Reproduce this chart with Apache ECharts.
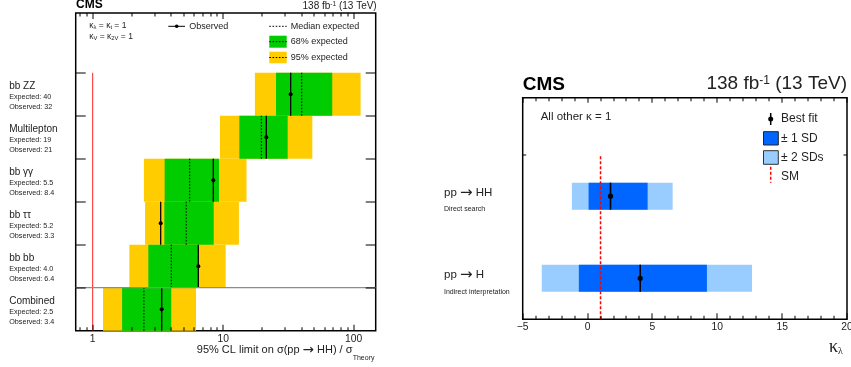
<!DOCTYPE html>
<html>
<head>
<meta charset="utf-8">
<script src="https://cdn.jsdelivr.net/npm/echarts@6/dist/echarts.min.js"></script>
<style>
  html, body { margin: 0; padding: 0; background: #fff; }
  #chart { width: 851px; height: 367px; }
</style>
</head>
<body>
<div id="chart"></div>
<script>
// left panel: 95% CL limits, bottom row first
const channels = ['Combined', 'bb bb', 'bb ττ', 'bb γγ', 'Multilepton', 'bb ZZ'];
const expectedText = ['2.5', '4.0', '5.2', '5.5', '19', '40'];
const observedText = ['3.4', '6.4', '3.3', '8.4', '21', '32'];
const expectedLimit = [2.47, 4.0, 5.21, 5.54, 19.6, 40.0];
const observedLimit = [3.38, 6.45, 3.32, 8.4, 21.4, 32.9];
const band68Low = [1.68, 2.67, 3.54, 3.56, 13.3, 25.4];
const band68High = [4.0, 6.53, 8.46, 9.29, 31.2, 68.5];
const band95Low = [1.2, 1.91, 2.52, 2.47, 9.45, 17.5];
const band95High = [6.19, 10.45, 13.2, 15.1, 48.2, 113];
const limitTicksMajor = [1, 10, 100];
const limitTicksMinor = [0.8, 0.9, 2, 3, 4, 5, 6, 7, 8, 9, 20, 30, 40, 50, 60, 70, 80, 90];
const rowEdges = [1, 2, 3, 4, 5, 6];

// right panel: kappa_lambda intervals, bottom row first
const processNames = [['pp', 'H'], ['pp', 'HH']];
const processNotes = ['Indirect interpretation', 'Direct search'];
const bestFit = [4.06, 1.77];
const sd1Low = [-0.67, 0.08];
const sd1High = [9.2, 4.63];
const sd2Low = [-3.53, -1.21];
const sd2High = [12.68, 6.56];
const smKappa = [1];
const kappaTicksMajor = [-5, 0, 5, 10, 15, 20];
const kappaTicksMinor = [-4, -3, -2, -1, 1, 2, 3, 4, 6, 7, 8, 9, 11, 12, 13, 14, 16, 17, 18, 19];
const kappaRowEdges = [2];

const FONT = 'Liberation Sans, Arial, sans-serif';
const ARROW_FONT = 'DejaVu Sans, sans-serif';
const YELLOW = '#ffcc00';
const GREEN = '#00cc00';
const BLUE = '#0066ff';
const LIGHTBLUE = '#99ccff';

const LX_MIN = 0.741, LX_MAX = 147.5, LY_MAX = 7.39;
const RX_MIN = -5, RX_MAX = 20, RY_MAX = 2.7, HALF = 0.165;

const chart = echarts.init(document.getElementById('chart'));

const rowData = channels.map((c, i) => [i]);
const procData = processNames.map((p, i) => [i]);

function bandSeries(low, high, color) {
  return {
    type: 'custom', xAxisIndex: 0, yAxisIndex: 0, data: rowData,
    renderItem: (params, api) => {
      const i = api.value(0);
      const a = api.coord([low[i], i + 1]);
      const b = api.coord([high[i], i]);
      return { type: 'rect', shape: { x: a[0], y: a[1], width: b[0] - a[0], height: b[1] - a[1] }, style: { fill: color } };
    }
  };
}

function kappaBand(low, high, color) {
  return {
    type: 'custom', xAxisIndex: 1, yAxisIndex: 1, data: procData,
    renderItem: (params, api) => {
      const i = api.value(0);
      const a = api.coord([low[i], i + 0.5 + HALF]);
      const b = api.coord([high[i], i + 0.5 - HALF]);
      return { type: 'rect', shape: { x: a[0], y: a[1], width: b[0] - a[0], height: b[1] - a[1] }, style: { fill: color } };
    }
  };
}

// ticks as thin filled rects (1px wide)
const vTick = (x, y, len) => ({ type: 'rect', shape: { x: Math.round(x) - 0.5, y: len > 0 ? y : y + len, width: 1, height: Math.abs(len) }, style: { fill: '#000' } });
const hTick = (x, y, len) => ({ type: 'rect', shape: { x: len > 0 ? x : x + len, y: Math.round(y) - 0.5, width: Math.abs(len), height: 1 }, style: { fill: '#000' } });

function tickSeries(axisIdx, major, minor, yMax, lenBottom, lenTop, fmt) {
  return {
    type: 'custom', xAxisIndex: axisIdx, yAxisIndex: axisIdx, clip: false, z: 6,
    data: major.map(v => [v, 1]).concat(minor.map(v => [v, 0])),
    renderItem: (params, api) => {
      const v = api.value(0), isMajor = api.value(1) === 1;
      const b = api.coord([v, 0]);
      const t = api.coord([v, yMax]);
      const kids = [
        vTick(b[0], b[1], -(isMajor ? lenBottom[0] : lenBottom[1])),
        vTick(t[0], t[1], isMajor ? lenTop[0] : lenTop[1])
      ];
      if (isMajor) {
        kids.push({ type: 'text', x: b[0], y: b[1] + 8.3, style: { text: fmt(v), fill: '#222', fontSize: 10.3, fontFamily: FONT, align: 'center', verticalAlign: 'middle' } });
      }
      return { type: 'group', children: kids };
    }
  };
}

function edgeSeries(axisIdx, edges, xMin, xMax, len) {
  return {
    type: 'custom', xAxisIndex: axisIdx, yAxisIndex: axisIdx, clip: false, z: 6, data: edges.map(v => [v]),
    renderItem: (params, api) => {
      const l = api.coord([xMin, api.value(0)]);
      const r = api.coord([xMax, api.value(0)]);
      return { type: 'group', children: [hTick(l[0], l[1], len), hTick(r[0], r[1], -len)] };
    }
  };
}

chart.setOption({
  animation: false,
  grid: [
    { left: 75.7, top: 13, right: 475.3, bottom: 36.3, show: true, borderColor: '#000', borderWidth: 1.5 },
    { left: 522.7, top: 97.7, right: 4, bottom: 47.7, show: true, borderColor: '#000', borderWidth: 1.5 }
  ],
  xAxis: [
    { gridIndex: 0, type: 'log', logBase: 10, min: LX_MIN, max: LX_MAX, show: false },
    { gridIndex: 1, type: 'value', min: RX_MIN, max: RX_MAX, show: false }
  ],
  yAxis: [
    { gridIndex: 0, type: 'value', min: 0, max: LY_MAX, show: false },
    { gridIndex: 1, type: 'value', min: 0, max: RY_MAX, show: false }
  ],
  series: [
    bandSeries(band95Low, band95High, YELLOW),
    bandSeries(band68Low, band68High, GREEN),
    {
      // median expected
      type: 'custom', xAxisIndex: 0, yAxisIndex: 0, data: rowData,
      renderItem: (params, api) => {
        const i = api.value(0);
        const a = api.coord([expectedLimit[i], i]);
        const b = api.coord([expectedLimit[i], i + 1]);
        return { type: 'line', shape: { x1: a[0], y1: a[1], x2: b[0], y2: b[1] }, style: { stroke: '#000', lineWidth: 1, lineDash: [1.6, 1.6] } };
      }
    },
    {
      // observed
      type: 'custom', xAxisIndex: 0, yAxisIndex: 0, data: rowData,
      renderItem: (params, api) => {
        const i = api.value(0);
        const a = api.coord([observedLimit[i], i]);
        const b = api.coord([observedLimit[i], i + 1]);
        const c = api.coord([observedLimit[i], i + 0.5]);
        return {
          type: 'group', children: [
            { type: 'line', shape: { x1: a[0], y1: a[1], x2: b[0], y2: b[1] }, style: { stroke: '#000', lineWidth: 1.3 } },
            { type: 'circle', shape: { cx: c[0], cy: c[1], r: 2 }, style: { fill: '#000' } }
          ]
        };
      }
    },
    {
      // SM reference at 1 and separator above combined
      type: 'custom', xAxisIndex: 0, yAxisIndex: 0, data: [[1]],
      renderItem: (params, api) => {
        const a = api.coord([1, 0]);
        const b = api.coord([1, channels.length]);
        const l = api.coord([LX_MIN, 1]);
        const r = api.coord([LX_MAX, 1]);
        return {
          type: 'group', children: [
            { type: 'line', shape: { x1: a[0], y1: a[1], x2: b[0], y2: b[1] }, style: { stroke: '#ff2020', lineWidth: 1 } },
            { type: 'line', shape: { x1: l[0], y1: l[1], x2: r[0], y2: r[1] }, style: { stroke: '#8c8c8c', lineWidth: 1.2 } }
          ]
        };
      }
    },
    edgeSeries(0, rowEdges, LX_MIN, LX_MAX, 10),
    tickSeries(0, limitTicksMajor, limitTicksMinor, LY_MAX, [6, 3.5], [6, 3.5], v => String(v)),
    {
      // channel labels
      type: 'custom', xAxisIndex: 0, yAxisIndex: 0, clip: false, data: rowData,
      renderItem: (params, api) => {
        const i = api.value(0);
        const p = api.coord([LX_MIN, i + 1]);
        const x = p[0] - 66.5;
        const txt = (s, dy, size) => ({ type: 'text', x: x, y: p[1] + dy, style: { text: s, fill: '#222', fontSize: size, fontFamily: FONT, align: 'left', verticalAlign: 'middle' } });
        return {
          type: 'group', children: [
            txt(channels[i], 13.8, 10),
            txt('Expected: ' + expectedText[i], 24.5, 7.2),
            txt('Observed: ' + observedText[i], 34, 7.2)
          ]
        };
      }
    },
    kappaBand(sd2Low, sd2High, LIGHTBLUE),
    kappaBand(sd1Low, sd1High, BLUE),
    {
      // SM kappa
      type: 'custom', xAxisIndex: 1, yAxisIndex: 1, data: smKappa.map(v => [v]),
      renderItem: (params, api) => {
        const a = api.coord([api.value(0), 0]);
        const b = api.coord([api.value(0), processNames.length]);
        return { type: 'line', shape: { x1: a[0], y1: a[1], x2: b[0], y2: b[1] }, style: { stroke: '#ff0000', lineWidth: 1.5, lineDash: [3, 2] } };
      }
    },
    {
      // best fit
      type: 'custom', xAxisIndex: 1, yAxisIndex: 1, data: procData,
      renderItem: (params, api) => {
        const i = api.value(0);
        const a = api.coord([bestFit[i], i + 0.5 - HALF]);
        const b = api.coord([bestFit[i], i + 0.5 + HALF]);
        const c = api.coord([bestFit[i], i + 0.5]);
        return {
          type: 'group', children: [
            { type: 'line', shape: { x1: a[0], y1: a[1], x2: b[0], y2: b[1] }, style: { stroke: '#000', lineWidth: 1.6 } },
            { type: 'circle', shape: { cx: c[0], cy: c[1], r: 2.6 }, style: { fill: '#000' } }
          ]
        };
      }
    },
    tickSeries(1, kappaTicksMajor, kappaTicksMinor, RY_MAX, [6, 3.5], [5, 3.5], v => String(v).replace('-', '−')),
    edgeSeries(1, kappaRowEdges, RX_MIN, RX_MAX, 3.5),
    {
      // process labels
      type: 'custom', xAxisIndex: 1, yAxisIndex: 1, clip: false, data: procData,
      renderItem: (params, api) => {
        const i = api.value(0);
        const p = api.coord([RX_MIN, i + 0.5]);
        const x = p[0] - 78.7;
        return {
          type: 'group', children: [
            { type: 'text', x: x, y: p[1] - 3, style: {
              text: '{n|' + processNames[i][0] + ' }{a|→}{n| ' + processNames[i][1] + '}', fill: '#222', align: 'left', verticalAlign: 'middle',
              rich: { n: { fontSize: 11.5, fontFamily: FONT, verticalAlign: 'middle' }, a: { fontSize: 15, fontFamily: ARROW_FONT, verticalAlign: 'middle' } } } },
            { type: 'text', x: x, y: p[1] + 13.3, style: { text: processNotes[i], fill: '#222', fontSize: 7, fontFamily: FONT, align: 'left', verticalAlign: 'middle' } }
          ]
        };
      }
    }
  ],
  graphic: [
    // left header
    { type: 'text', x: 76, y: 4.5, style: { text: 'CMS', fontSize: 12, fontWeight: 'bold', fontFamily: FONT, fill: '#000', verticalAlign: 'middle' } },
    { type: 'text', x: 376.7, y: 6, style: {
      text: '{n|138 fb}{u|-1}{n| (13 TeV)}', align: 'right', verticalAlign: 'middle', fill: '#222',
      rich: { n: { fontSize: 10, fontFamily: FONT }, u: { fontSize: 6.5, fontFamily: FONT, verticalAlign: 'top' } } } },
    // left legend
    { type: 'text', x: 89.3, y: 26, style: {
      text: '{k|κ}{s|λ}{k| = κ}{s|t}{k| = 1}', verticalAlign: 'middle', fill: '#222',
      rich: { k: { fontSize: 8.5, fontFamily: FONT }, s: { fontSize: 5.8, fontFamily: FONT, verticalAlign: 'bottom' } } } },
    { type: 'text', x: 89.3, y: 36.8, style: {
      text: '{k|κ}{s|V}{k| = κ}{s|2V}{k| = 1}', verticalAlign: 'middle', fill: '#222',
      rich: { k: { fontSize: 8.5, fontFamily: FONT }, s: { fontSize: 5.8, fontFamily: FONT, verticalAlign: 'bottom' } } } },
    { type: 'line', shape: { x1: 168.3, y1: 26.3, x2: 185, y2: 26.3 }, style: { stroke: '#000', lineWidth: 1 } },
    { type: 'circle', shape: { cx: 176.7, cy: 26.3, r: 1.8 }, style: { fill: '#000' } },
    { type: 'text', x: 189.3, y: 26.3, style: { text: 'Observed', fontSize: 9, fontFamily: FONT, fill: '#222', verticalAlign: 'middle' } },
    { type: 'line', shape: { x1: 269.3, y1: 26.3, x2: 286.7, y2: 26.3 }, style: { stroke: '#000', lineWidth: 1, lineDash: [1.6, 1.6] } },
    { type: 'text', x: 290.7, y: 26.3, style: { text: 'Median expected', fontSize: 9, fontFamily: FONT, fill: '#222', verticalAlign: 'middle' } },
    { type: 'rect', shape: { x: 269.3, y: 35.7, width: 17.4, height: 12 }, style: { fill: GREEN } },
    { type: 'line', shape: { x1: 269.3, y1: 41.7, x2: 286.7, y2: 41.7 }, style: { stroke: '#000', lineWidth: 1, lineDash: [1.6, 1.6] } },
    { type: 'text', x: 290.7, y: 42, style: { text: '68% expected', fontSize: 9, fontFamily: FONT, fill: '#222', verticalAlign: 'middle' } },
    { type: 'rect', shape: { x: 269.3, y: 51.7, width: 17.4, height: 11.6 }, style: { fill: YELLOW } },
    { type: 'line', shape: { x1: 269.3, y1: 57.5, x2: 286.7, y2: 57.5 }, style: { stroke: '#000', lineWidth: 1, lineDash: [1.6, 1.6] } },
    { type: 'text', x: 290.7, y: 57.7, style: { text: '95% expected', fontSize: 9, fontFamily: FONT, fill: '#222', verticalAlign: 'middle' } },
    // left axis title
    { type: 'text', x: 352.5, y: 350, style: {
      text: '{n|95% CL limit on σ(pp }{a|→}{n| HH) / σ}', align: 'right', verticalAlign: 'middle', fill: '#222',
      rich: { n: { fontSize: 11, fontFamily: FONT, verticalAlign: 'middle' }, a: { fontSize: 13.5, fontFamily: ARROW_FONT, verticalAlign: 'middle' } } } },
    { type: 'text', x: 352.7, y: 357.7, style: { text: 'Theory', verticalAlign: 'middle', fontSize: 7, fontFamily: FONT, fill: '#222' } },
    // right header
    { type: 'text', x: 522.7, y: 85, style: { text: 'CMS', fontSize: 19, fontWeight: 'bold', fontFamily: FONT, fill: '#000', verticalAlign: 'middle' } },
    { type: 'text', x: 847, y: 84, style: {
      text: '{n|138 fb}{u|-1}{n| (13 TeV)}', align: 'right', verticalAlign: 'middle', fill: '#222',
      rich: { n: { fontSize: 19, fontFamily: FONT }, u: { fontSize: 12, fontFamily: FONT, verticalAlign: 'top' } } } },
    // right legend
    { type: 'text', x: 540.7, y: 117.3, style: { text: 'All other κ = 1', fontSize: 11.5, fontFamily: FONT, fill: '#222', verticalAlign: 'middle' } },
    { type: 'line', shape: { x1: 770.7, y1: 113, x2: 770.7, y2: 125 }, style: { stroke: '#000', lineWidth: 1.5 } },
    { type: 'circle', shape: { cx: 770.7, cy: 119, r: 2.5 }, style: { fill: '#000' } },
    { type: 'text', x: 781, y: 119, style: { text: 'Best fit', fontSize: 12, fontFamily: FONT, fill: '#222', verticalAlign: 'middle' } },
    { type: 'rect', shape: { x: 763.5, y: 131.7, width: 14.8, height: 13.3 }, style: { fill: BLUE, stroke: '#222', lineWidth: 1 } },
    { type: 'text', x: 781, y: 138.5, style: { text: '± 1 SD', fontSize: 12, fontFamily: FONT, fill: '#222', verticalAlign: 'middle' } },
    { type: 'rect', shape: { x: 763.5, y: 150.7, width: 14.8, height: 13.6 }, style: { fill: LIGHTBLUE, stroke: '#333', lineWidth: 1 } },
    { type: 'text', x: 781, y: 157.5, style: { text: '± 2 SDs', fontSize: 12, fontFamily: FONT, fill: '#222', verticalAlign: 'middle' } },
    { type: 'line', shape: { x1: 770.7, y1: 166.7, x2: 770.7, y2: 182.7 }, style: { stroke: '#ff0000', lineWidth: 1.5, lineDash: [3, 2] } },
    { type: 'text', x: 781, y: 176.7, style: { text: 'SM', fontSize: 12, fontFamily: FONT, fill: '#222', verticalAlign: 'middle' } },
    // right axis title
    { type: 'text', x: 829, y: 347, style: {
      text: '{k|κ}{s|λ}', verticalAlign: 'middle', fill: '#222',
      rich: { k: { fontSize: 18, fontFamily: 'Liberation Serif, serif' }, s: { fontSize: 10, fontFamily: 'Liberation Serif, serif', verticalAlign: 'bottom' } } } }
  ]
});
</script>
</body>
</html>
